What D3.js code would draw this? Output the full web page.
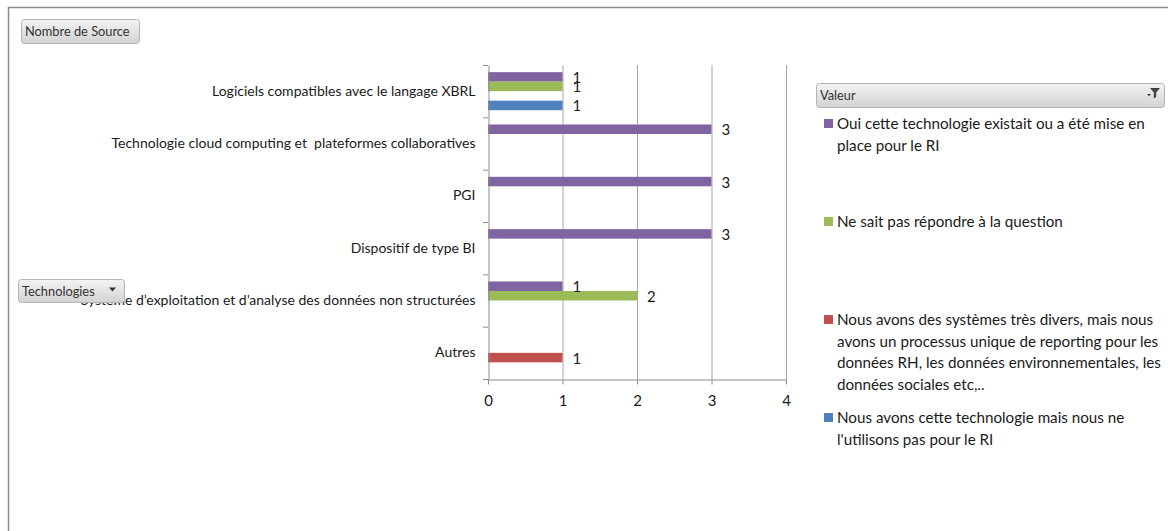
<!DOCTYPE html>
<html>
<head>
<meta charset="utf-8">
<script src="https://cdn.jsdelivr.net/npm/d3@7"></script>
<style>
  body { margin: 0; background: #fff; }
  svg { display: block; font-family: Lato, "Open Sans", sans-serif; }
</style>
</head>
<body>
<svg id="chart"></svg>
<script>
// categories, top to bottom
var categories = [
  "Logiciels compatibles avec le langage XBRL",
  "Technologie cloud computing et\u00a0 plateformes collaboratives",
  "PGI",
  "Dispositif de type BI",
  "Système d\u2019exploitation et d\u2019analyse des données non structurées",
  "Autres"
];

// series (Valeur)
var seriesKeys = ["oui", "nsp", "divers", "pasRI"];
var seriesColors = ["#8064a2", "#9bbb59", "#c0504d", "#4f81bd"];
var seriesLabels = [
  ["Oui cette technologie existait ou a été mise en", "place pour le RI"],
  ["Ne sait pas répondre à la question"],
  ["Nous avons des systèmes très divers, mais nous", "avons un processus unique de reporting pour les", "données RH, les données environnementales, les", "données sociales etc,.."],
  ["Nous avons cette technologie mais nous ne", "l'utilisons pas pour le RI"]
];

// values per series, same order as categories (0 = empty)
var ouiValues    = [1, 3, 3, 3, 1, 0];
var nspValues    = [1, 0, 0, 0, 2, 0];
var diversValues = [0, 0, 0, 0, 0, 1];
var pasRIValues  = [1, 0, 0, 0, 0, 0];

var xTicks = [0, 1, 2, 3, 4];

var valuesBySeries = [ouiValues, nspValues, diversValues, pasRIValues];

var W = 1168, H = 531;
var svg = d3.select("#chart").attr("width", W).attr("height", H);

//----------- outer frame -----------
svg.append("path")
  .attr("d", "M8.5," + H + "V7.5H" + W)
  .attr("fill", "none")
  .attr("stroke", "#8c8c8c")
  .attr("stroke-width", 1.5);

//----------- gradient for the pivot buttons -----------
var defs = svg.append("defs");
var grad = defs.append("linearGradient").attr("id", "btn").attr("x1", 0).attr("y1", 0).attr("x2", 0).attr("y2", 1);
grad.append("stop").attr("offset", "0%").attr("stop-color", "#f4f4f4");
grad.append("stop").attr("offset", "100%").attr("stop-color", "#d2d2d2");

function button(x, y, w, h, label) {
  var g = svg.append("g").attr("transform", "translate(" + x + "," + y + ")");
  g.append("rect")
    .attr("x", 0.5).attr("y", 0.5)
    .attr("width", w).attr("height", h)
    .attr("rx", 3)
    .attr("fill", "url(#btn)")
    .attr("stroke", "#b4b4b4");
  g.append("text")
    .attr("x", 4).attr("y", h / 2 + 5)
    .attr("font-size", 12.8)
    .attr("fill", "#333")
    .text(label);
  return g;
}

button(21, 19, 118, 24, "Nombre de Source");
var techBtn = button(18, 279, 106, 23, "Technologies");
techBtn.append("path").attr("d", "M91,8.5h7l-3.5,4z").attr("fill", "#333");

//----------- scales -----------
var x = d3.scaleLinear().domain([0, 4]).range([488, 786]);
var y = d3.scaleBand().domain(categories).range([65, 379]);
var ySub = d3.scaleBand().domain(seriesKeys).range([0, y.bandwidth()]).paddingOuter(0.75);

//----------- gridlines -----------
svg.append("g")
  .selectAll("line")
  .data(xTicks.slice(1))
  .enter().append("line")
  .attr("x1", d => x(d) + 0.5).attr("x2", d => x(d) + 0.5)
  .attr("y1", y.range()[0]).attr("y2", y.range()[1])
  .attr("stroke", "#a6a6a6");

//----------- bars -----------
var barData = [];
seriesKeys.forEach(function(k, i) {
  valuesBySeries[i].forEach(function(v, j) {
    if (v > 0) barData.push({key: k, color: seriesColors[i], cat: categories[j], value: v});
  });
});

svg.append("g")
  .selectAll("rect")
  .data(barData)
  .enter().append("rect")
  .attr("x", x(0))
  .attr("y", d => y(d.cat) + ySub(d.key))
  .attr("width", d => x(d.value) - x(0))
  .attr("height", ySub.bandwidth())
  .attr("fill", d => d.color);

// data labels
svg.append("g")
  .selectAll("text")
  .data(barData)
  .enter().append("text")
  .attr("x", d => x(d.value) + 10)
  .attr("y", d => y(d.cat) + ySub(d.key) + ySub.bandwidth() / 2 + 6)
  .attr("font-size", 15)
  .attr("fill", "#1a1a1a")
  .text(d => d.value);

//----------- x axis -----------
var xAxis = svg.append("g")
  .attr("transform", "translate(0," + (y.range()[1] + 0.5) + ")")
  .call(d3.axisBottom(x).tickValues(xTicks).tickFormat(d3.format("d")).tickSize(5).tickSizeOuter(0).tickPadding(11));
xAxis.selectAll("line,path").attr("stroke", "#8c8c8c");
xAxis.selectAll("text").attr("font-size", 15).attr("font-family", "Lato, 'Open Sans', sans-serif").attr("fill", "#1a1a1a");

//----------- y axis -----------
var yAxis = svg.append("g")
  .attr("transform", "translate(" + (x(0) + 0.5) + ",0)")
  .call(d3.axisLeft(y).tickSize(0).tickSizeOuter(0).tickPadding(13));
yAxis.select("path").attr("stroke", "#8c8c8c");
yAxis.selectAll("text").attr("font-size", 14).attr("font-family", "Lato, 'Open Sans', sans-serif").attr("fill", "#1a1a1a");

// category boundary ticks
var bounds = categories.map(c => y(c)).concat([y.range()[1]]);
svg.append("g")
  .selectAll("line")
  .data(bounds)
  .enter().append("line")
  .attr("x1", x(0) - 5).attr("x2", x(0))
  .attr("y1", d => d + 0.5).attr("y2", d => d + 0.5)
  .attr("stroke", "#8c8c8c");

// button sits over the labels
techBtn.raise();

//----------- legend -----------
var legX = 816;
var valBar = svg.append("g").attr("transform", "translate(" + legX + ",83)");
valBar.append("rect")
  .attr("x", 0.5).attr("y", 0.5).attr("width", 348).attr("height", 24).attr("rx", 3)
  .attr("fill", "url(#btn)").attr("stroke", "#b4b4b4");
valBar.append("text").attr("x", 4).attr("y", 17).attr("font-size", 12.8).attr("fill", "#333").text("Valeur");
valBar.append("path").attr("d", "M334,5h10l-3.8,4.5v4.5l-2.4,1.5v-6z").attr("fill", "#444");
valBar.append("path").attr("d", "M331,11h4l-2,2.5z").attr("fill", "#444");

var legItems = svg.append("g")
  .selectAll("g")
  .data(seriesLabels)
  .enter().append("g")
  .attr("transform", (d, i) => "translate(" + legX + "," + (129 + i * 98) + ")");

legItems.append("rect")
  .attr("x", 8).attr("y", -10)
  .attr("width", 9).attr("height", 9)
  .attr("fill", (d, i) => seriesColors[i]);

legItems.append("text")
  .attr("font-size", 15.2)
  .attr("fill", "#1a1a1a")
  .selectAll("tspan")
  .data(d => d)
  .enter().append("tspan")
  .attr("x", 21)
  .attr("y", (d, i) => i * 21.5)
  .text(d => d);
</script>
</body>
</html>
